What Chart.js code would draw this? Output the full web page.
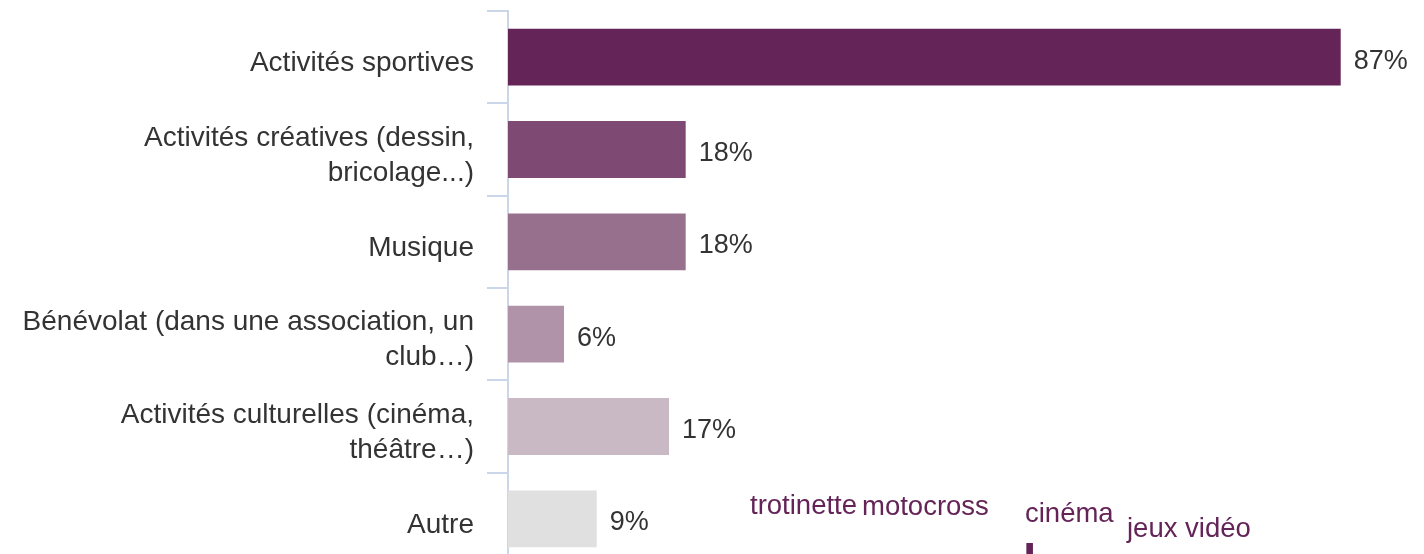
<!DOCTYPE html>
<html>
<head>
<meta charset="utf-8">
<script src="https://cdn.jsdelivr.net/npm/chart.js@4/dist/chart.umd.min.js"></script>
<style>
  html, body { margin: 0; padding: 0; background: #ffffff; overflow: hidden; width: 1424px; height: 554px; }
  #wrap { position: absolute; left: 0; top: 0; width: 1470px; height: 565px; }
  .word { position: absolute; font-family: 'Liberation Sans', Arial, sans-serif; color: #642457; white-space: nowrap; line-height: 1; }
</style>
</head>
<body>
<div id="wrap"><canvas id="c"></canvas></div>
<script>
const categories = [
  "Activités sportives",
  ["Activités créatives (dessin,", "bricolage...)"],
  "Musique",
  ["Bénévolat (dans une association, un", "club…)"],
  ["Activités culturelles (cinéma,", "théâtre…)"],
  "Autre"
];
const values = [86.56, 18.47, 18.47, 5.82, 16.74, 9.22];
const barColors = ["#642457", "#7e4a73", "#97708e", "#b093a9", "#c9b9c5", "#e0e0e0"];
const cloudWords = ["trotinette", "motocross", "cinéma", "jeux vidéo", "l"];

Chart.defaults.font.family = "'Liberation Sans', Arial, sans-serif";

const valueLabelPlugin = {
  id: 'valueLabels',
  afterDatasetsDraw(chart) {
    const ctx = chart.ctx;
    const meta = chart.getDatasetMeta(0);
    ctx.save();
    ctx.font = "27px 'Liberation Sans', Arial, sans-serif";
    ctx.fillStyle = "#333333";
    ctx.textAlign = "left";
    ctx.textBaseline = "middle";
    meta.data.forEach((bar, i) => {
      ctx.fillText(Math.round(values[i]) + "%", bar.x + 13, bar.y + 4);
    });
    ctx.restore();
  }
};

new Chart(document.getElementById('c'), {
  type: 'bar',
  data: {
    labels: categories,
    datasets: [{
      data: values,
      backgroundColor: barColors,
      borderWidth: 0,
      barPercentage: 0.615,
      categoryPercentage: 1.0
    }]
  },
  options: {
    indexAxis: 'y',
    responsive: true,
    maintainAspectRatio: false,
    animation: false,
    layout: { padding: { top: 11, right: 0, bottom: 0, left: 0 } },
    plugins: { legend: { display: false }, tooltip: { enabled: false } },
    scales: {
      x: { display: false, min: 0, max: 100 },
      y: {
        afterFit(scale) {
          scale.width = 508;
          scale.paddingTop = 0;
          scale.paddingBottom = 0;
        },
        grid: {
          offset: true,
          drawOnChartArea: false,
          drawTicks: true,
          tickLength: 21,
          color: "#ccd6eb",
          lineWidth: 2
        },
        border: { display: true, color: "#ccd6eb", width: 2 },
        ticks: {
          padding: 13,
          labelOffset: 6,
          color: "#333333",
          font: { size: 28, lineHeight: 1.25 }
        }
      }
    }
  },
  plugins: [valueLabelPlugin]
});

// Word cloud fragments visible at the bottom
const cloudPos = [
  { x: 750, y: 491, size: 27.5, weight: 'normal' },
  { x: 862, y: 492, size: 27.5, weight: 'normal' },
  { x: 1025, y: 499, size: 27.5, weight: 'normal' },
  { x: 1127, y: 514, size: 27.5, weight: 'normal' },
  { x: 1023, y: 538, size: 48, weight: 'bold' }
];
cloudWords.forEach((w, i) => {
  const s = document.createElement('span');
  s.className = 'word';
  s.textContent = w;
  s.style.left = cloudPos[i].x + 'px';
  s.style.top = cloudPos[i].y + 'px';
  s.style.fontSize = cloudPos[i].size + 'px';
  s.style.fontWeight = cloudPos[i].weight;
  document.body.appendChild(s);
});
</script>
</body>
</html>
